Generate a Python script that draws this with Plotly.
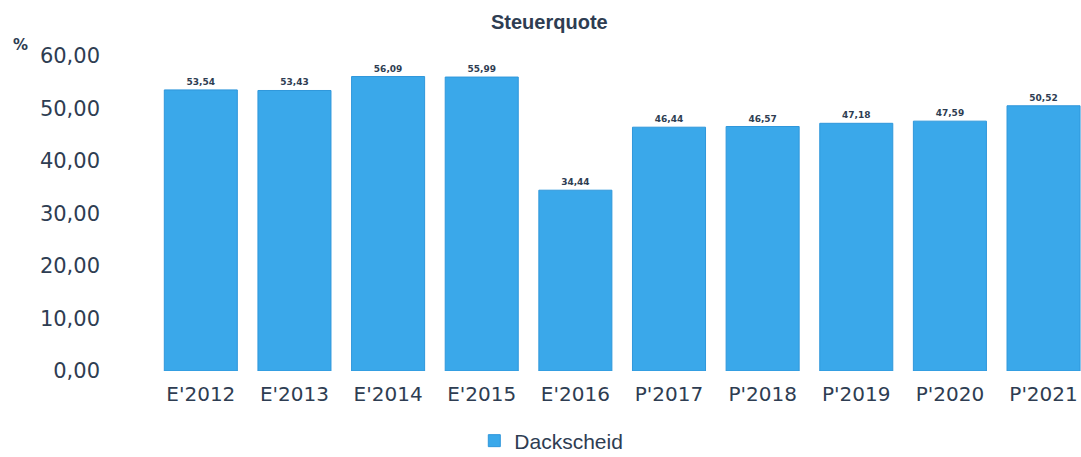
import plotly.graph_objects as go

categories = ["E'2012", "E'2013", "E'2014", "E'2015", "E'2016",
              "P'2017", "P'2018", "P'2019", "P'2020", "P'2021"]
values = [53.54, 53.43, 56.09, 55.99, 34.44, 46.44, 46.57, 47.18, 47.59, 50.52]
series_name = "Dackscheid"
tick_vals = [0, 10, 20, 30, 40, 50, 60]

TXT = "#2e3d52"
BAR = "#3aa8ea"

fig = go.Figure()
fig.add_trace(go.Bar(
    x=categories, y=values, name=series_name,
    marker=dict(color=BAR, line=dict(color="#2f97db", width=1)),
    texttemplate="%{y:.2f}", textposition="outside",
    textfont=dict(family="DejaVu Sans", size=9, color=TXT, weight="bold"),
    cliponaxis=False, showlegend=True,
))

fig.update_layout(
    width=1081, height=457,
    margin=dict(l=154, r=0, t=56, b=86),
    paper_bgcolor="white", plot_bgcolor="white",
    separators=",.",
    bargap=0.22,
    xaxis=dict(range=[-0.5, 9.4], showgrid=False, showline=False, ticks="",
               ticklabelstandoff=9,
               tickfont=dict(family="DejaVu Sans", size=20, color=TXT)),
    yaxis=dict(range=[0, 60], tickvals=tick_vals, tickformat=".2f",
               showgrid=False, showline=False, zeroline=False, ticks="",
               ticklabelstandoff=53,
               tickfont=dict(family="DejaVu Sans", size=21, color=TXT)),
    legend=dict(orientation="h", xref="container", x=0.51, xanchor="center",
                yref="container", y=0.035, yanchor="middle",
                font=dict(family="Liberation Sans", size=21, color=TXT)),
    annotations=[
        dict(text="<b>Steuerquote</b>", xref="paper", yref="paper",
             x=(549 - 154) / 927, y=1 + (56 - 22) / 315,
             xanchor="center", yanchor="middle", showarrow=False,
             font=dict(family="Liberation Sans", size=20, color=TXT)),
        dict(text="<b>%</b>", xref="paper", yref="paper",
             x=(20 - 154) / 927, y=1 + (56 - 45) / 315,
             xanchor="center", yanchor="middle", showarrow=False,
             font=dict(family="DejaVu Sans", size=15, color=TXT)),
    ],
)

fig.write_html("out.html", config={"displayModeBar": False},
               post_script="document.body.style.margin='0';")
